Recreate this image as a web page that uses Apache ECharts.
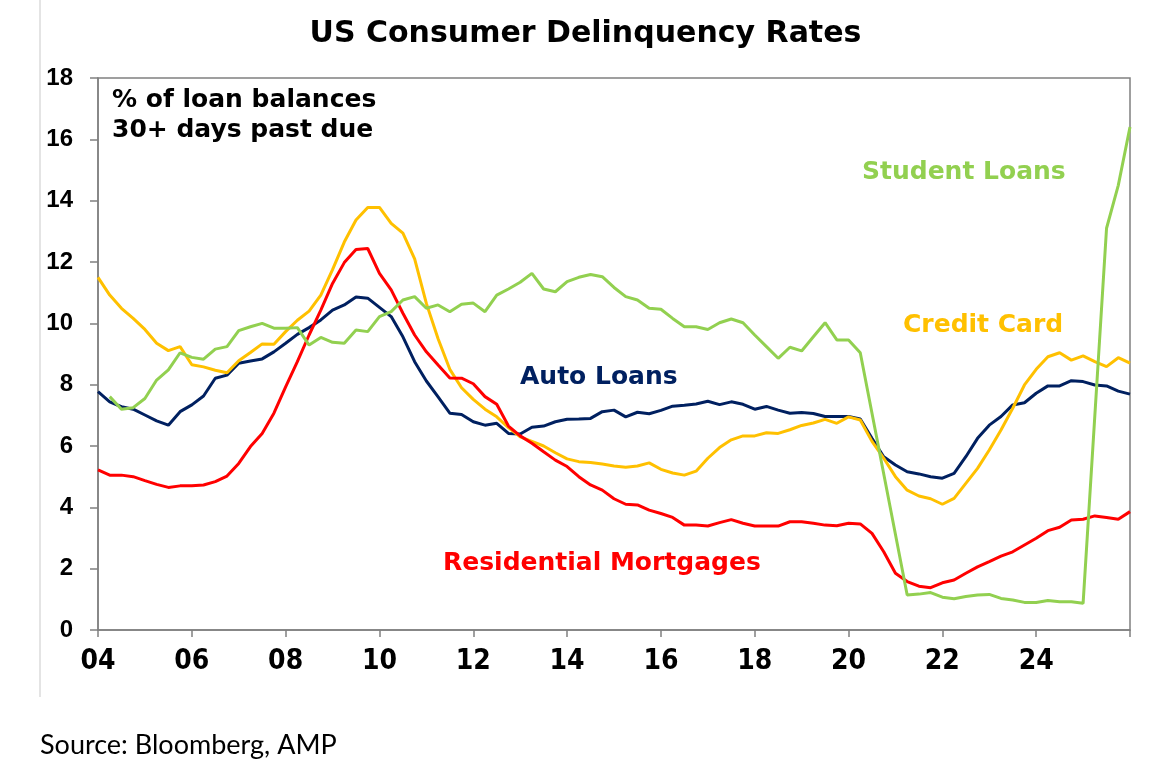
<!DOCTYPE html>
<html>
<head>
<meta charset="utf-8">
<title>US Consumer Delinquency Rates</title>
<script src="https://cdn.jsdelivr.net/npm/echarts@6/dist/echarts.min.js"></script>
<style>
  html, body { margin: 0; padding: 0; background: #fff; }
  #chart { width: 1171px; height: 782px; }
</style>
</head>
<body>
<div id="chart"></div>
<script>
// quarterly, 2004 Q1 .. 2026 Q1 (axis runs 04 to 26)
const quarters = [];
for (let y = 2004; y <= 2026; y++) {
  for (let q = 1; q <= 4; q++) {
    if (y === 2026 && q > 1) break;
    quarters.push(y + ' Q' + q);
  }
}

const autoLoans = [
  7.77, 7.44, 7.28, 7.2, 7.01, 6.82, 6.68, 7.12, 7.34, 7.63,
  8.21, 8.31, 8.7, 8.77, 8.84, 9.07, 9.35, 9.64, 9.86, 10.11,
  10.43, 10.6, 10.86, 10.82, 10.52, 10.22, 9.56, 8.75, 8.12, 7.6,
  7.07, 7.03, 6.79, 6.68, 6.74, 6.41, 6.39, 6.61, 6.65, 6.79,
  6.87, 6.88, 6.9, 7.12, 7.17, 6.95, 7.1, 7.05, 7.16, 7.3,
  7.33, 7.37, 7.46, 7.35, 7.44, 7.36, 7.2, 7.29, 7.17, 7.07,
  7.09, 7.06, 6.96, 6.96, 6.96, 6.88, 6.25, 5.65, 5.38, 5.16,
  5.09, 5.0, 4.95, 5.11, 5.65, 6.25, 6.68, 6.96, 7.34, 7.41,
  7.72, 7.96, 7.96, 8.13, 8.1, 7.99, 7.96, 7.79, 7.69
];

const creditCard = [
  11.5, 10.92, 10.49, 10.16, 9.8, 9.35, 9.11, 9.24, 8.65, 8.58,
  8.47, 8.39, 8.78, 9.05, 9.33, 9.32, 9.73, 10.1, 10.4, 10.92,
  11.75, 12.65, 13.37, 13.78, 13.78, 13.26, 12.94, 12.1, 10.65, 9.5,
  8.5, 7.9, 7.52, 7.2, 6.95, 6.6, 6.3, 6.15, 6.0, 5.78,
  5.58, 5.49, 5.46, 5.41, 5.35, 5.31, 5.35, 5.45, 5.24, 5.12,
  5.05, 5.18, 5.6, 5.95, 6.2, 6.33, 6.33, 6.43, 6.41, 6.53,
  6.67, 6.75, 6.87, 6.74, 6.95, 6.85, 6.15, 5.6, 5.0, 4.56,
  4.37, 4.28, 4.1, 4.29, 4.78, 5.27, 5.87, 6.52, 7.23, 7.99,
  8.5, 8.91, 9.04, 8.8, 8.94, 8.75, 8.59, 8.88, 8.7
];

const mortgages = [
  5.22, 5.05, 5.05, 5.0, 4.87, 4.75, 4.65, 4.7, 4.7, 4.73,
  4.84, 5.02, 5.43, 5.98, 6.41, 7.07, 7.93, 8.75, 9.62, 10.43,
  11.3, 11.98, 12.41, 12.44, 11.63, 11.09, 10.33, 9.62, 9.07, 8.64,
  8.22, 8.21, 8.03, 7.61, 7.36, 6.65, 6.33, 6.09, 5.81, 5.54,
  5.33, 5.0, 4.73, 4.56, 4.28, 4.1, 4.08, 3.91, 3.8, 3.67,
  3.42, 3.42, 3.39, 3.5, 3.6, 3.48, 3.39, 3.39, 3.39, 3.53,
  3.53, 3.48, 3.42, 3.4, 3.48, 3.46, 3.15, 2.55, 1.85, 1.58,
  1.43, 1.38, 1.54, 1.63, 1.85, 2.06, 2.23, 2.41, 2.55, 2.77,
  2.99, 3.24, 3.35, 3.59, 3.61, 3.72, 3.67, 3.61, 3.86
];

// gaps where the original joins points with a straight segment
const studentLoans = [
  null, 7.61, 7.2, 7.25, 7.55, 8.15, 8.48, 9.04, 8.89, 8.83,
  9.16, 9.24, 9.76, 9.89, 10.0, 9.84, 9.84, 9.86, 9.29, 9.54,
  9.38, 9.35, 9.78, 9.73, 10.22, 10.38, 10.76, 10.87, 10.49, 10.6,
  10.38, 10.62, 10.66, 10.38, 10.92, 11.12, 11.34, 11.63, 11.12, 11.03,
  11.36, 11.5, 11.59, 11.52, 11.17, 10.87, 10.76, 10.49, 10.46, 10.16,
  9.89, 9.89, 9.8, 10.02, 10.14, 10.02, 9.62, 9.24, 8.86, 9.22,
  9.1, 9.56, 10.02, 9.46, 9.46, 9.04, null, null, null, 1.14,
  1.17, 1.22, 1.07, 1.02, 1.09, 1.14, 1.16, 1.03, 0.98, 0.9,
  0.9, 0.96, 0.92, 0.92, 0.87, null, 13.1, 14.5, 16.4
];

const yTicks = { min: 0, max: 18, step: 2 };

const NAVY = '#002060';
const AMBER = '#FFC000';
const RED = '#FF0000';
const GREEN = '#92D050';
const AXIS_GREY = '#808080';

const LABEL_FONT = 'bold 25px "DejaVu Sans", sans-serif';

const chart = echarts.init(document.getElementById('chart'));

const options = {
  backgroundColor: '#fff',
  animation: false,
  title: {
    text: 'US Consumer Delinquency Rates',
    left: 'center',
    top: 14,
    textStyle: {
      fontFamily: '"DejaVu Sans", sans-serif',
      fontSize: 30,
      fontWeight: 'bold',
      color: '#000'
    }
  },
  grid: {
    left: 98,
    right: 41,
    top: 78,
    bottom: 152,
    show: true,
    borderColor: AXIS_GREY,
    borderWidth: 1.5,
    backgroundColor: 'transparent'
  },
  xAxis: {
    type: 'category',
    data: quarters,
    boundaryGap: false,
    axisLine: { lineStyle: { color: AXIS_GREY, width: 1.5 } },
    axisTick: {
      inside: false,
      length: 7,
      interval: (i) => i % 8 === 0,
      lineStyle: { color: AXIS_GREY, width: 1.5 }
    },
    axisLabel: {
      interval: (i) => i % 8 === 0,
      margin: 18,
      color: '#000',
      fontFamily: '"Liberation Sans Narrow", "Arial Narrow", "DejaVu Sans Condensed", sans-serif',
      fontWeight: 'bold',
      fontSize: 28,
      formatter: (val) => {
        const yr = +val.slice(0, 4);
        return yr >= 2026 ? '' : val.slice(2, 4);
      }
    },
    splitLine: { show: false }
  },
  yAxis: {
    type: 'value',
    min: yTicks.min,
    max: yTicks.max,
    interval: yTicks.step,
    axisLine: { show: true, lineStyle: { color: AXIS_GREY, width: 1.5 } },
    axisTick: { show: true, inside: false, length: 8, lineStyle: { color: AXIS_GREY, width: 1.5 } },
    axisLabel: {
      margin: 25,
      color: '#000',
      fontFamily: '"Liberation Sans", Arial, sans-serif',
      fontWeight: 'bold',
      fontSize: 24
    },
    splitLine: { show: false }
  },
  series: [
    {
      name: 'Auto Loans',
      type: 'line',
      data: autoLoans,
      showSymbol: false,
      lineStyle: { color: NAVY, width: 3 },
      itemStyle: { color: NAVY }
    },
    {
      name: 'Credit Card',
      type: 'line',
      data: creditCard,
      showSymbol: false,
      lineStyle: { color: AMBER, width: 3 },
      itemStyle: { color: AMBER }
    },
    {
      name: 'Residential Mortgages',
      type: 'line',
      data: mortgages,
      showSymbol: false,
      lineStyle: { color: RED, width: 3 },
      itemStyle: { color: RED }
    },
    {
      name: 'Student Loans',
      type: 'line',
      data: studentLoans,
      connectNulls: true,
      showSymbol: false,
      lineStyle: { color: GREEN, width: 3 },
      itemStyle: { color: GREEN }
    }
  ],
  graphic: [
    // left edge of the pasted picture
    {
      type: 'line',
      shape: { x1: 40, y1: 0, x2: 40, y2: 697 },
      style: { stroke: '#e4e4e4', lineWidth: 2 }
    },
    {
      type: 'text', x: 112, y: 100,
      style: { text: '% of loan balances', font: LABEL_FONT, fill: '#000', verticalAlign: 'middle' }
    },
    {
      type: 'text', x: 112, y: 130,
      style: { text: '30+ days past due', font: LABEL_FONT, fill: '#000', verticalAlign: 'middle' }
    },
    {
      type: 'text', x: 862, y: 172,
      style: { text: 'Student Loans', font: LABEL_FONT, fill: GREEN, verticalAlign: 'middle' }
    },
    {
      type: 'text', x: 903, y: 325,
      style: { text: 'Credit Card', font: LABEL_FONT, fill: AMBER, verticalAlign: 'middle' }
    },
    {
      type: 'text', x: 520, y: 377,
      style: { text: 'Auto Loans', font: LABEL_FONT, fill: NAVY, verticalAlign: 'middle' }
    },
    {
      type: 'text', x: 443, y: 563,
      style: { text: 'Residential Mortgages', font: LABEL_FONT, fill: RED, verticalAlign: 'middle' }
    },
    {
      type: 'text', x: 40, y: 745,
      style: { text: 'Source: Bloomberg, AMP', font: '27px Lato, "Open Sans", sans-serif', fill: '#000', verticalAlign: 'middle' }
    }
  ]
};

chart.setOption(options);
</script>
</body>
</html>
